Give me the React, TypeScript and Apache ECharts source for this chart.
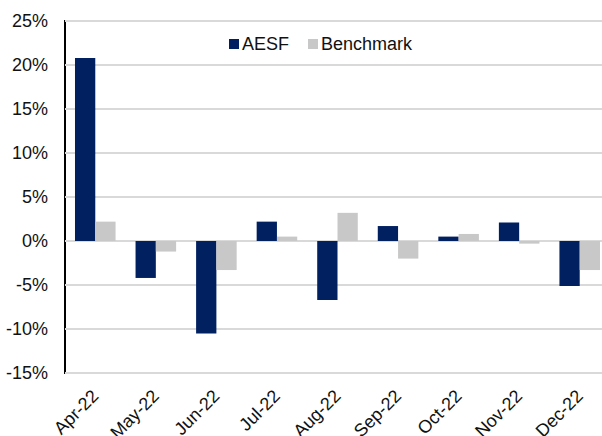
import React, { useEffect, useRef } from "react";
import * as echarts from "echarts";

const categories = ["Apr-22", "May-22", "Jun-22", "Jul-22", "Aug-22", "Sep-22", "Oct-22", "Nov-22", "Dec-22"];
const aesf = [20.8, -4.2, -10.5, 2.2, -6.7, 1.7, 0.5, 2.1, -5.1];
const benchmark = [2.2, -1.2, -3.3, 0.5, 3.2, -2.0, 0.8, -0.3, -3.3];
const yMin = -15;
const yMax = 25;
const yStep = 5;

export default function App() {
  const ref = useRef<HTMLDivElement>(null);
  useEffect(() => {
    if (!ref.current) return;
    const chart = echarts.init(ref.current, undefined, { renderer: "svg" });
    const font = "Liberation Sans, Arial, sans-serif";
    chart.setOption({
      animation: false,
      backgroundColor: "#ffffff",
      textStyle: { fontFamily: font },
      grid: {
        left: 65,
        top: 21,
        width: 545,
        height: 352,
        show: true,
        borderColor: "#000000",
        borderWidth: 2,
        containLabel: false,
        outerBoundsMode: "none",
      },
      legend: {
        left: 229,
        top: 35,
        padding: 0,
        itemWidth: 10,
        itemHeight: 10,
        itemGap: 19,
        icon: "rect",
        textStyle: { fontSize: 18, color: "#111111", fontFamily: font, padding: [0, 0, 0, -2] },
        data: ["AESF", "Benchmark"],
      },
      xAxis: {
        type: "category",
        data: categories,
        axisLine: { show: false, onZero: false },
        axisTick: { show: false },
        axisLabel: {
          rotate: 45,
          fontSize: 18,
          color: "#111111",
          fontFamily: font,
          margin: 20,
          interval: 0,
        },
      },
      yAxis: {
        type: "value",
        min: yMin,
        max: yMax,
        interval: yStep,
        axisLine: { show: false },
        axisTick: { show: false },
        axisLabel: {
          formatter: "{value}%",
          fontSize: 18,
          color: "#111111",
          fontFamily: font,
          margin: 17,
        },
        splitLine: { lineStyle: { color: "#d9d9d9", width: 2 } },
      },
      series: [
        {
          name: "AESF",
          type: "bar",
          data: aesf,
          itemStyle: { color: "#002060" },
          barGap: "0%",
          barCategoryGap: "33%",
        },
        {
          name: "Benchmark",
          type: "bar",
          data: benchmark,
          itemStyle: { color: "#c8c8c8" },
          barGap: "0%",
          barCategoryGap: "33%",
        },
      ],
    });
    return () => chart.dispose();
  }, []);
  return (
    <div
      ref={ref}
      style={{ position: "fixed", left: 0, top: 0, width: 602, height: 436 }}
    />
  );
}
